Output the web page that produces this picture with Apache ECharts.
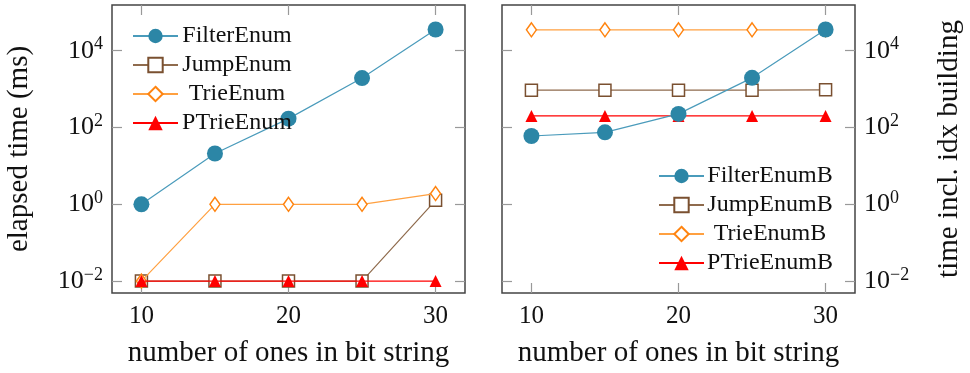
<!DOCTYPE html>
<html><head><meta charset="utf-8">
<script src="https://cdn.jsdelivr.net/npm/echarts@6/dist/echarts.min.js"></script>
<style>html,body{margin:0;padding:0;background:#fff}#c{width:970px;height:373px}</style>
</head><body><div id="c"></div>
<script>
const xValues = [10, 15, 20, 25, 30];
const xTicks = [10, 20, 30];
const yTicks = [0.01, 1, 100, 10000];
const yTickExp = { 0.01: '−2', 1: '0', 100: '2', 10000: '4' };

// left panel: elapsed time (ms)
const filterEnum = [1, 21, 170, 1940, 35700];
const jumpEnum   = [0.01, 0.01, 0.01, 0.01, 1.27];
const trieEnum   = [0.01, 1, 1, 1, 1.9];
const pTrieEnum  = [0.01, 0.01, 0.01, 0.01, 0.01];

// right panel: time incl. idx building
const filterEnumB = [60, 75, 226, 1960, 35700];
const jumpEnumB   = [940, 940, 940, 940, 960];
const trieEnumB   = [35000, 35000, 35000, 35000, 35000];
const pTrieEnumB  = [200, 200, 200, 200, 200];

const FONT = 'Liberation Serif';
const C_FILTER = '#2c86a6', C_FILTER_L = '#4a9bbb';
const C_JUMP = '#7a5030', C_JUMP_L = '#8f6b4d';
const C_TRIE = '#ff8410', C_TRIE_L = '#ffa040';
const C_PTRIE = '#ff0000';

const yMin = Math.pow(10, -2.31), yMax = Math.pow(10, 5.19);
const rich = {
  b: { fontFamily: FONT, fontSize: 26, color: '#111' },
  s: { fontFamily: FONT, fontSize: 18, color: '#111', verticalAlign: 'bottom', padding: [0, 0, 12, 0] }
};
function yFmt(v) {
  const e = yTickExp[v] !== undefined ? yTickExp[v] : String(Math.round(Math.log10(v)));
  return '{b|10}{s|' + e + '}';
}

const grids = [
  { left: 112, top: 5, width: 353, height: 288, show: true, borderColor: '#444', borderWidth: 1.5, outerBoundsMode: 'none', containLabel: false },
  { left: 502, top: 5, width: 353, height: 288, show: true, borderColor: '#444', borderWidth: 1.5, outerBoundsMode: 'none', containLabel: false }
];

function xAx(g, pos, labels) {
  return {
    type: 'value', gridIndex: g, min: 8, max: 32, position: pos,
    axisLine: { show: false },
    axisTick: { show: true, inside: true, length: 10, customValues: xTicks, lineStyle: { color: '#999', width: 1.2 } },
    axisLabel: { show: labels, customValues: xTicks, margin: 11, fontFamily: FONT, fontSize: 25, color: '#111' },
    splitLine: { show: false },
    name: labels ? 'number of ones in bit string' : '', nameLocation: 'middle', nameGap: 46,
    nameTextStyle: { fontFamily: FONT, fontSize: 29, color: '#111' }
  };
}
function yAx(g, pos, labels, name, gap) {
  return {
    type: 'log', logBase: 10, gridIndex: g, min: yMin, max: yMax, position: pos,
    axisLine: { show: false },
    axisTick: { show: true, inside: true, length: 10, customValues: yTicks, lineStyle: { color: '#999', width: 1.2 } },
    axisLabel: { show: labels, customValues: yTicks, margin: 9, formatter: yFmt, rich: rich },
    splitLine: { show: false },
    name: name || '', nameLocation: 'middle', nameGap: gap || 80, nameRotate: 90,
    nameTextStyle: { fontFamily: FONT, fontSize: 29, color: '#111' }
  };
}

function mk(name, data, xi, yi, sym, size, color, lineColor, fill, z) {
  return {
    name: name, type: 'line', xAxisIndex: xi, yAxisIndex: yi,
    data: xValues.map((x, i) => [x, data[i]]),
    symbol: sym, symbolSize: size, showSymbol: true,
    lineStyle: { color: lineColor, width: 1.2 },
    itemStyle: { color: fill, borderColor: color, borderWidth: fill === '#fff' ? 1.5 : 0 },
    color: color, z: z, animation: false
  };
}
const diamond = 'path://M0,-1L0.6,0L0,1L-0.6,0Z';

const series = [
  mk('FilterEnum', filterEnum, 0, 0, 'circle', 16, C_FILTER, C_FILTER_L, C_FILTER, 2),
  mk('JumpEnum', jumpEnum, 0, 0, 'rect', 12, C_JUMP, C_JUMP_L, '#fff', 3),
  mk('TrieEnum', trieEnum, 0, 0, diamond, [10, 14], C_TRIE, C_TRIE_L, '#fff', 4),
  mk('PTrieEnum', pTrieEnum, 0, 0, 'triangle', 12, C_PTRIE, C_PTRIE, C_PTRIE, 5),
  mk('FilterEnumB', filterEnumB, 2, 2, 'circle', 16, C_FILTER, C_FILTER_L, C_FILTER, 5),
  mk('JumpEnumB', jumpEnumB, 2, 2, 'rect', 12, C_JUMP, C_JUMP_L, '#fff', 3),
  mk('TrieEnumB', trieEnumB, 2, 2, diamond, [10, 14], C_TRIE, C_TRIE_L, '#fff', 4),
  mk('PTrieEnumB', pTrieEnumB, 2, 2, 'triangle', 12, C_PTRIE, C_PTRIE, C_PTRIE, 2)
];

function leg(names, left, top, w) {
  return {
    data: names, orient: 'vertical', left: left, top: top,
    itemWidth: 45, itemHeight: 18, itemGap: 5, padding: 0,
    formatter: n => '{c|' + n + '}',
    textStyle: { rich: { c: { fontFamily: FONT, fontSize: 24, lineHeight: 18, color: '#111', width: w, align: 'center' } } },
    backgroundColor: 'transparent'
  };
}

const chart = echarts.init(document.getElementById('c'), null, { renderer: 'canvas' });
chart.setOption({
  animation: false,
  backgroundColor: '#fff',
  grid: grids,
  xAxis: [xAx(0, 'bottom', true), xAx(0, 'top', false), xAx(1, 'bottom', true), xAx(1, 'top', false)],
  yAxis: [yAx(0, 'left', true, 'elapsed time (ms)', 78), yAx(0, 'right', false), yAx(1, 'right', true, 'time incl. idx building', 80), yAx(1, 'left', false)],
  legend: [
    leg(['FilterEnum', 'JumpEnum', 'TrieEnum', 'PTrieEnum'], 132, 24, 108),
    leg(['FilterEnumB', 'JumpEnumB', 'TrieEnumB', 'PTrieEnumB'], 658, 164, 122)
  ],
  series: series
});
</script></body></html>
